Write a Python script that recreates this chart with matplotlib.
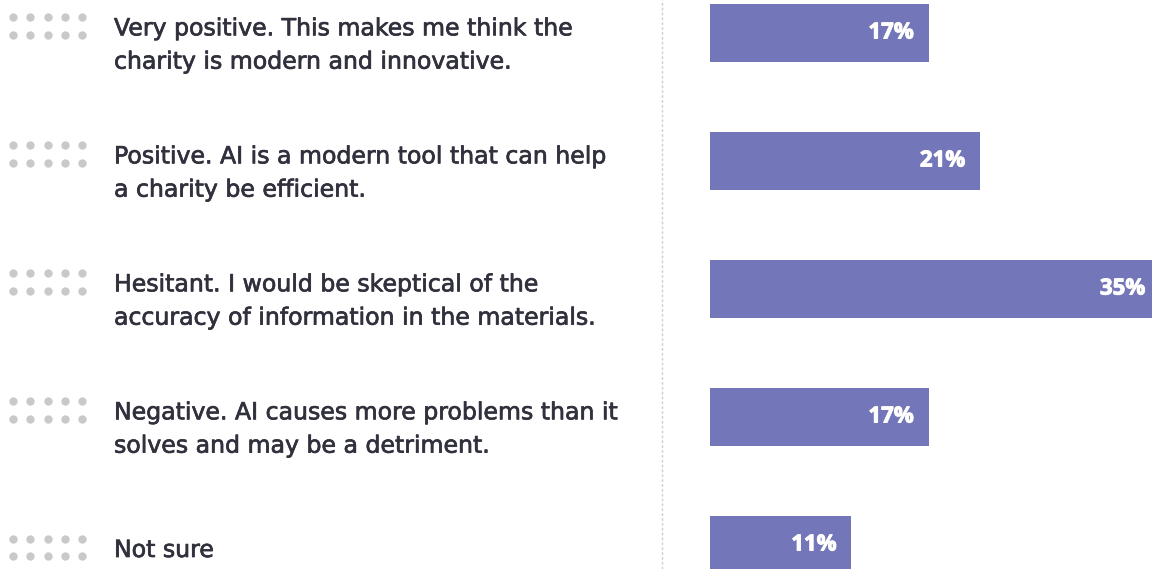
import matplotlib
matplotlib.use("Agg")
import matplotlib.pyplot as plt
import matplotlib.patheffects as pe

# Survey answers and shares (%)
answers = [
    "Very positive. This makes me think the\ncharity is modern and innovative.",
    "Positive. AI is a modern tool that can help\na charity be efficient.",
    "Hesitant. I would be skeptical of the\naccuracy of information in the materials.",
    "Negative. AI causes more problems than it\nsolves and may be a detriment.",
    "Not sure",
]
shares = [17, 21, 35, 17, 11]

BAR_COLOR = "#7376b8"
TEXT_COLOR = "#30313d"
DOT_COLOR = "#c9c9c9"
LABEL_FONT = ["DejaVu Sans"]
PCT_FONT = ["Open Sans", "DejaVu Sans"]

W, H, DPI = 1152, 569, 100
ROW_PX = 128          # vertical distance between rows
FIRST_PX = 33         # centre of first row from the top
BAR_LEFT = 710
PX_PER_PCT = 12.86

y_top = -FIRST_PX / ROW_PX
y_bot = y_top + H / ROW_PX
px = 1.0 / ROW_PX  # one pixel in row units

fig = plt.figure(figsize=(W / DPI, H / DPI), dpi=DPI)

# label area: x in pixels, y in row units
ax_l = fig.add_axes([0, 0, 1, 1])
ax_l.set_xlim(0, W)
ax_l.set_ylim(y_bot, y_top)
ax_l.axis("off")

# bar area
ax_b = fig.add_axes([BAR_LEFT / W, 0, (W - BAR_LEFT) / W, 1])
ax_b.set_xlim(0, (W - BAR_LEFT) / PX_PER_PCT)
ax_b.set_ylim(y_bot, y_top)
ax_b.axis("off")

rows = list(range(len(answers)))
ax_b.barh(rows, shares, height=58 / ROW_PX, color=BAR_COLOR, linewidth=0)
bold = [pe.withStroke(linewidth=0.7, foreground="white")]
for i, v in zip(rows, shares):
    ax_b.annotate(f"{v}%", (v, i), xytext=(-37.5, 0), textcoords="offset pixels",
                  ha="center", va="center", color="white", fontsize=16,
                  fontweight="bold", family=PCT_FONT, annotation_clip=False,
                  path_effects=bold)

# dotted divider
ax_l.axvline(662, color="#cfcfcf", lw=1.0, ls=(0, (2, 1.5)))

medium = [pe.withStroke(linewidth=0.5, foreground=TEXT_COLOR)]
dot_x = [13, 30.3, 47.6, 64.9, 82.2]
for i, text in zip(rows, answers):
    n_lines = text.count("\n") + 1
    if n_lines > 1:
        block_c = i + 12 * px
        first_c = i - 7 * px
    else:
        block_c = i + 5 * px
        first_c = i + 2.5 * px
    ax_l.text(114, block_c, text, ha="left", va="center", fontsize=17,
              color=TEXT_COLOR, family=LABEL_FONT, linespacing=1.49,
              path_effects=medium)
    for dy in (-9 * px, 9 * px):
        ax_l.scatter(dot_x, [first_c + dy] * len(dot_x), s=36, color=DOT_COLOR,
                     linewidths=0, zorder=3)

fig.savefig("out.png", dpi=DPI)
